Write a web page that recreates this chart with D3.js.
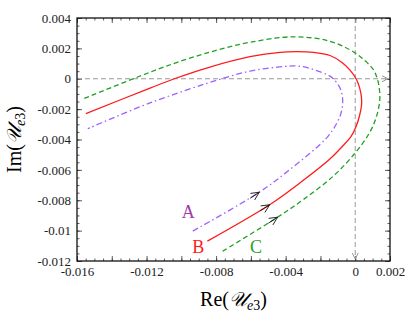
<!DOCTYPE html>
<html lang="en">
<head>
  <meta charset="utf-8">
  <title>U_e3 trajectories</title>
  <script src="https://cdn.jsdelivr.net/npm/d3@7"></script>
  <style>
    body { margin: 0; background: #fff; }
    text { font-family: "Liberation Serif", "DejaVu Serif", serif; }
  </style>
</head>
<body>
<script>
  var w = 415;
  var h = 318;
  var margin = {left: 77, right: 25, top: 18, bottom: 57};

  // curve points, [Re, Im] in units of 1e-3, from start (bottom left) round to the upper left
  var curveA = [[-9.34,-10.03],[-5.57,-7.51],[-3.75,-5.97],[-1.64,-3.89],[-1.05,-2.9],[-0.8,-2.2],[-0.72,-1.45],
                [-0.84,-0.7],[-1.26,0.0],[-1.64,0.28],[-3.17,0.82],[-4.5,0.76],[-6.05,0.5],
                [-7.68,0.0],[-11.80,-1.59],[-15.38,-3.29]];
  var curveB = [[-8.50,-10.69],[-4.90,-8.28],[-3.17,-6.85],[-1.49,-5.32],[-0.91,-4.66],[-0.24,-3.80],
                [0.05,-3.14],[0.25,-2.42],[0.36,-1.76],[0.36,-1.24],[0.25,-0.58],[0.05,0.0],[-0.30,0.57],
                [-0.76,1.07],[-1.45,1.53],[-2.41,1.74],[-3.4,1.78],[-4.32,1.74],[-6.05,1.45],[-8.5,0.72],
                [-10.4,0.0],[-11.8,-0.62],[-15.49,-2.29]];
  var curveC = [[-7.62,-11.35],[-4.51,-9.15],[-2.98,-7.95],[-1.26,-6.41],[0.0,-4.88],[0.8,-3.6],[1.22,-2.5],
                [1.41,-1.4],[1.38,-0.6],[1.27,0.0],[1.04,0.61],[0.55,1.2],[0.0,1.70],[-1.45,2.47],[-3.56,2.76],
                [-6.05,2.40],[-7.96,1.88],[-9.88,1.22],[-11.80,0.43],[-15.63,-1.32]];
  // where the direction arrows sit on each curve
  var arrowAt = [[-5.51,-7.47],[-4.94,-8.28],[-4.48,-9.11]];
  var names = ["A", "B", "C"];
  var labelAt = [[-9.6,-8.78],[-9.02,-11.1],[-5.70,-11.1]];

  var xTickLabels = [-0.016, -0.012, -0.008, -0.004, 0, 0.002];
  var yTickLabels = [0.004, 0.002, 0, -0.002, -0.004, -0.006, -0.008, -0.01, -0.012];

  var colors = ["#a060ff", "#ff1a1a", "#229f22"];
  var labelColors = ["#a03aa8", "#ff1a1a", "#2aa02a"];
  var dashes = ["6,3,1.5,3", null, "5,3"];

  var svg = d3.select("body").append("svg")
              .attr("width", w)
              .attr("height", h);

  var x = d3.scaleLinear().domain([-0.016, 0.002]).range([margin.left, w - margin.right]);
  var y = d3.scaleLinear().domain([-0.012, 0.004]).range([h - margin.bottom, margin.top]);

  var majorX = d3.range(-0.016, 0.0021, 0.002);
  var minorX = d3.range(-0.016, 0.00201, 0.0005);
  var majorY = d3.range(-0.012, 0.0041, 0.002);
  var minorY = d3.range(-0.012, 0.00401, 0.0005);

  function fmt(d) {
    var s = d3.format("~g")(+d.toFixed(4));
    return s.replace("−", "-");
  }

  // minor ticks on every side
  svg.append("g").attr("transform", "translate(0," + y.range()[0] + ")")
     .call(d3.axisBottom(x).tickValues(minorX).tickSize(-2.5).tickFormat(""));
  svg.append("g").attr("transform", "translate(0," + y.range()[1] + ")")
     .call(d3.axisTop(x).tickValues(minorX).tickSize(-2.5).tickFormat(""));
  svg.append("g").attr("transform", "translate(" + x.range()[0] + ",0)")
     .call(d3.axisLeft(y).tickValues(minorY).tickSize(-2.5).tickFormat(""));
  svg.append("g").attr("transform", "translate(" + x.range()[1] + ",0)")
     .call(d3.axisRight(y).tickValues(minorY).tickSize(-2.5).tickFormat(""));

  // major ticks
  svg.append("g").attr("class", "xaxis")
     .attr("transform", "translate(0," + y.range()[0] + ")")
     .call(d3.axisBottom(x).tickValues(majorX).tickSize(-5).tickPadding(6)
           .tickFormat(function(d) { return xTickLabels.some(function(v) { return Math.abs(v - d) < 1e-9; }) ? fmt(d) : ""; }));
  svg.append("g").attr("transform", "translate(0," + y.range()[1] + ")")
     .call(d3.axisTop(x).tickValues(majorX).tickSize(-5).tickFormat(""));
  svg.append("g").attr("class", "yaxis")
     .attr("transform", "translate(" + x.range()[0] + ",0)")
     .call(d3.axisLeft(y).tickValues(yTickLabels).tickSize(-5).tickPadding(6).tickFormat(fmt));
  svg.append("g").attr("transform", "translate(" + x.range()[1] + ",0)")
     .call(d3.axisRight(y).tickValues(majorY).tickSize(-5).tickFormat(""));

  svg.selectAll(".domain").remove();
  svg.selectAll(".tick line").attr("stroke", "#333").attr("stroke-width", 0.8);
  svg.selectAll(".xaxis text, .yaxis text")
     .attr("font-size", 13)
     .attr("fill", "#222");

  // gray dashed lines at zero with small arrow heads
  var zero = svg.append("g").attr("class", "zero");
  zero.append("line")
      .attr("x1", x.range()[0]).attr("x2", x.range()[1] - 2)
      .attr("y1", y(0)).attr("y2", y(0));
  zero.append("line")
      .attr("x1", x(0)).attr("x2", x(0))
      .attr("y1", y.range()[1]).attr("y2", y.range()[0] - 2);
  zero.selectAll("line")
      .attr("stroke", "#999").attr("stroke-width", 1).attr("stroke-dasharray", "5,3");
  zero.append("path")
      .attr("d", "M" + (x.range()[1] - 8) + "," + (y(0) - 3) + "L" + (x.range()[1] - 2) + "," + y(0) + "L" + (x.range()[1] - 8) + "," + (y(0) + 3))
      .attr("fill", "none").attr("stroke", "#999");
  zero.append("path")
      .attr("d", "M" + (x(0) - 3) + "," + (y.range()[0] - 8) + "L" + x(0) + "," + (y.range()[0] - 2) + "L" + (x(0) + 3) + "," + (y.range()[0] - 8))
      .attr("fill", "none").attr("stroke", "#999");

  // the three curves
  var line = d3.line()
               .x(function(d) { return x(d[0] / 1000); })
               .y(function(d) { return y(d[1] / 1000); })
               .curve(d3.curveCatmullRom.alpha(0.5));

  var curves = [curveA, curveB, curveC];
  var paths = svg.append("g").attr("class", "curves")
     .selectAll("path")
     .data(curves)
     .enter()
     .append("path")
     .attr("d", line)
     .attr("fill", "none")
     .attr("stroke", function(d, i) { return colors[i]; })
     .attr("stroke-width", 1.3)
     .attr("stroke-dasharray", function(d, i) { return dashes[i]; });

  // arrow heads: find the nearest point on the path, take its direction
  paths.each(function(d, i) {
    var node = this;
    var total = node.getTotalLength();
    var px = x(arrowAt[i][0] / 1000), py = y(arrowAt[i][1] / 1000);
    var best = 0, bestD = 1e9;
    for (var l = 0; l < total; l += 0.5) {
      var p = node.getPointAtLength(l);
      var dd = (p.x - px) * (p.x - px) + (p.y - py) * (p.y - py);
      if (dd < bestD) { bestD = dd; best = l; }
    }
    var p0 = node.getPointAtLength(Math.max(best - 2, 0));
    var p1 = node.getPointAtLength(best + 2);
    var tip = node.getPointAtLength(best);
    var ang = Math.atan2(p1.y - p0.y, p1.x - p0.x);
    var len = 9, spread = 0.45;
    var b1 = [tip.x - len * Math.cos(ang - spread), tip.y - len * Math.sin(ang - spread)];
    var b2 = [tip.x - len * Math.cos(ang + spread), tip.y - len * Math.sin(ang + spread)];
    var tail = [tip.x - 11 * Math.cos(ang), tip.y - 11 * Math.sin(ang)];
    svg.append("path")
       .attr("d", "M" + b1 + "L" + tip.x + "," + tip.y + "L" + b2 +
                  "M" + tail + "L" + tip.x + "," + tip.y)
       .attr("fill", "none")
       .attr("stroke", "#111")
       .attr("stroke-width", 0.9);
  });

  // curve names
  svg.append("g").selectAll("text")
     .data(names)
     .enter()
     .append("text")
     .attr("x", function(d, i) { return x(labelAt[i][0] / 1000); })
     .attr("y", function(d, i) { return y(labelAt[i][1] / 1000); })
     .attr("text-anchor", "middle")
     .attr("dominant-baseline", "central")
     .attr("font-size", 18)
     .attr("fill", function(d, i) { return labelColors[i]; })
     .text(function(d) { return d; });

  // frame
  svg.append("rect")
     .attr("x", x.range()[0]).attr("y", y.range()[1])
     .attr("width", x.range()[1] - x.range()[0])
     .attr("height", y.range()[0] - y.range()[1])
     .attr("fill", "none")
     .attr("stroke", "#111")
     .attr("stroke-width", 1.3);

  // axis titles
  var xt = svg.append("text")
     .attr("x", (x.range()[0] + x.range()[1]) / 2)
     .attr("y", 306)
     .attr("text-anchor", "middle")
     .attr("font-size", 20);
  xt.append("tspan").text("Re(");
  xt.append("tspan").attr("font-style", "italic").text("𝒰");
  xt.append("tspan").attr("font-style", "italic").attr("font-size", 14).attr("dy", 4).text("e");
  xt.append("tspan").attr("font-size", 14).text("3");
  xt.append("tspan").attr("dy", -4).text(")");

  var yt = svg.append("text")
     .attr("transform", "translate(21," + ((y.range()[0] + y.range()[1]) / 2) + ") rotate(-90)")
     .attr("text-anchor", "middle")
     .attr("font-size", 20);
  yt.append("tspan").text("Im(");
  yt.append("tspan").attr("font-style", "italic").text("𝒰");
  yt.append("tspan").attr("font-style", "italic").attr("font-size", 14).attr("dy", 4).text("e");
  yt.append("tspan").attr("font-size", 14).text("3");
  yt.append("tspan").attr("dy", -4).text(")");
</script>
</body>
</html>
